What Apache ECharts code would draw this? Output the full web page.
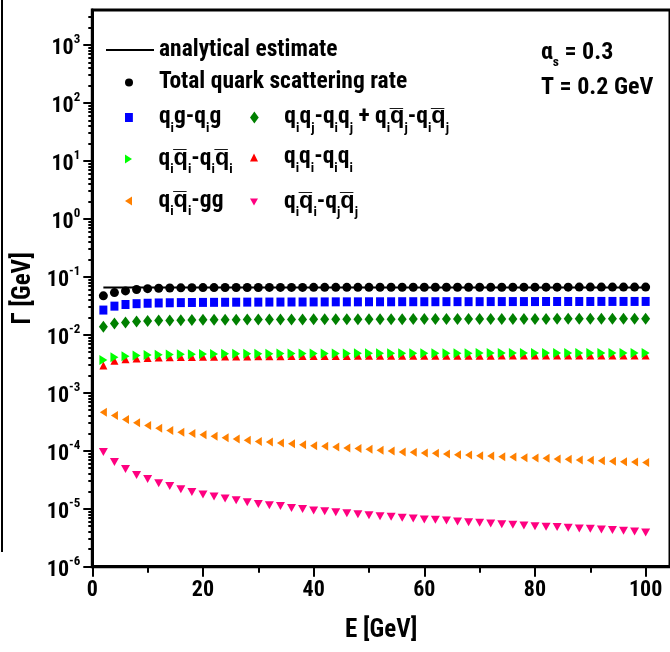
<!DOCTYPE html>
<html><head><meta charset="utf-8">
<script src="https://cdn.jsdelivr.net/npm/echarts@6/dist/echarts.min.js"></script>
<style>html,body{margin:0;padding:0;background:#fff}#c{width:670px;height:652px}</style>
</head><body><div id="c"></div>
<script>
// ---------- data ----------
const energy = [2,4,6,8,10,12,14,16,18,20,22,24,26,28,30,32,34,36,38,40,42,44,46,48,50,
  52,54,56,58,60,62,64,66,68,70,72,74,76,78,80,82,84,86,88,90,92,94,96,98,100];
const analyticalE = [2, 100];
const analyticalRate = [0.0655, 0.0655];
const totalRate = [0.047,0.0535,0.0572,0.0605,0.0625,0.0636,0.0642,0.0646,0.0649,0.0651,
  0.0652,0.0653,0.0654,0.0655,0.0655,0.0656,0.0656,0.0657,0.0657,0.0658,
  0.0658,0.0658,0.0659,0.0659,0.0659,0.066,0.066,0.066,0.066,0.0661,
  0.0661,0.0661,0.0661,0.0662,0.0662,0.0662,0.0662,0.0662,0.0663,0.0663,
  0.0663,0.0663,0.0663,0.0664,0.0664,0.0664,0.0664,0.0664,0.0664,0.0665];
const qgRate = [0.0267,0.0312,0.0333,0.0344,0.035,0.0354,0.0357,0.0359,0.0361,0.0362,
  0.0363,0.0364,0.0365,0.0366,0.0366,0.0367,0.0367,0.0368,0.0368,0.0369,
  0.0369,0.037,0.037,0.037,0.0371,0.0371,0.0371,0.0372,0.0372,0.0372,
  0.0372,0.0373,0.0373,0.0373,0.0373,0.0374,0.0374,0.0374,0.0374,0.0374,
  0.0375,0.0375,0.0375,0.0375,0.0375,0.0376,0.0376,0.0376,0.0376,0.0376];
const qqDiffRate = [0.0138,0.0157,0.0163,0.0169,0.0173,0.0176,0.0177,0.0179,0.018,0.0181,
  0.0181,0.0182,0.0182,0.0183,0.0183,0.0183,0.0184,0.0184,0.0184,0.0185,
  0.0185,0.0185,0.0185,0.0186,0.0186,0.0186,0.0186,0.0186,0.0187,0.0187,
  0.0187,0.0187,0.0187,0.0187,0.0188,0.0188,0.0188,0.0188,0.0188,0.0188,
  0.0188,0.0189,0.0189,0.0189,0.0189,0.0189,0.0189,0.0189,0.0189,0.019];
const qqbarSameRate = [0.00368,0.00408,0.00425,0.00438,0.00446,0.00452,0.00456,0.0046,0.00463,0.00465,
  0.00467,0.00469,0.0047,0.00471,0.00472,0.00473,0.00474,0.00475,0.00476,0.00477,
  0.00477,0.00478,0.00478,0.00479,0.00479,0.0048,0.0048,0.0048,0.00481,0.00481,
  0.00481,0.00482,0.00482,0.00482,0.00483,0.00483,0.00483,0.00483,0.00484,0.00484,
  0.00484,0.00484,0.00485,0.00485,0.00485,0.00485,0.00485,0.00486,0.00486,0.00486];
const qqSameRate = [0.00294,0.00358,0.00378,0.0039,0.00398,0.00404,0.00409,0.00413,0.00416,0.00418,
  0.0042,0.00422,0.00423,0.00424,0.00426,0.00427,0.00428,0.00429,0.0043,0.0043,
  0.00431,0.00432,0.00432,0.00433,0.00433,0.00434,0.00434,0.00435,0.00435,0.00435,
  0.00436,0.00436,0.00436,0.00437,0.00437,0.00437,0.00438,0.00438,0.00438,0.00438,
  0.00439,0.00439,0.00439,0.00439,0.0044,0.0044,0.0044,0.0044,0.0044,0.00441];
const qqbarToGGRate = [4.62e-4,4.06e-4,3.47e-4,3.04e-4,2.73e-4,2.45e-4,2.24e-4,2.09e-4,1.99e-4,1.89e-4,
  1.77e-4,1.68e-4,1.59e-4,1.51e-4,1.45e-4,1.41e-4,1.36e-4,1.32e-4,1.27e-4,1.22e-4,
  1.19e-4,1.16e-4,1.11e-4,1.09e-4,1.06e-4,1.02e-4,9.87e-5,9.5e-5,9.38e-5,9.12e-5,
  9.02e-5,8.77e-5,8.57e-5,8.43e-5,8.23e-5,8.1e-5,7.91e-5,7.79e-5,7.6e-5,7.48e-5,
  7.4e-5,7.2e-5,7.11e-5,6.92e-5,6.84e-5,6.75e-5,6.56e-5,6.49e-5,6.38e-5,6.24e-5];
const qqbarToQQbarRate = [9.48e-5,6.38e-5,4.84e-5,3.82e-5,3.26e-5,2.75e-5,2.47e-5,2.17e-5,1.95e-5,1.76e-5,
  1.62e-5,1.5e-5,1.4e-5,1.29e-5,1.21e-5,1.15e-5,1.11e-5,1.03e-5,9.93e-6,9.33e-6,
  9.08e-6,8.73e-6,8.38e-6,8.05e-6,7.74e-6,7.45e-6,7.24e-6,6.96e-6,6.79e-6,6.53e-6,
  6.43e-6,6.28e-6,6.04e-6,5.87e-6,5.71e-6,5.57e-6,5.42e-6,5.27e-6,5.15e-6,5.01e-6,
  4.87e-6,4.82e-6,4.69e-6,4.57e-6,4.5e-6,4.4e-6,4.28e-6,4.16e-6,4.06e-6,3.9e-6];
const xMajorTicks = [0,20,40,60,80,100];
const xMinorTicks = [10,30,50,70,90];
const yMajorTicks = [1e-6,1e-5,1e-4,1e-3,1e-2,1e-1,1,10,100,1000];
const yMinorTicks = [];
yMajorTicks.forEach(d => { for (let k = 2; k <= 9; k++) { const v = +(k * d).toPrecision(3); if (v < 4000) yMinorTicks.push(v); } });

// ---------- style ----------
const F = "'Roboto Condensed','Liberation Sans',Arial,sans-serif";
const W = 'bold';
const BAR = '\u0305';
const legRich = {
  m: { fontFamily: F, fontWeight: W, fontSize: 23.5, color: '#000' },
  s: { fontFamily: F, fontWeight: W, fontSize: 13.5, color: '#000', padding: [22, 0, 0, 0] }
};
const m = t => '{m|' + t + '}';
const s = t => '{s|' + t + '}';
const qb = 'q' + BAR;
const labels = {
  'analytical estimate': m('analytical estimate'),
  'Total quark scattering rate': m('Total quark scattering rate'),
  'qig-qig': m('q') + s('i') + m('g-q') + s('i') + m('g'),
  'qiqj-qiqj + qiqjbar-qiqjbar': m('q') + s('i') + m('q') + s('j') + m('-q') + s('i') + m('q') + s('j') +
      m(' + q') + s('i') + m(qb) + s('j') + m('-q') + s('i') + m(qb) + s('j'),
  'qiqibar-qiqibar': m('q') + s('i') + m(qb) + s('i') + m('-q') + s('i') + m(qb) + s('i'),
  'qiqi-qiqi': m('q') + s('i') + m('q') + s('i') + m('-q') + s('i') + m('q') + s('i'),
  'qiqibar-gg': m('q') + s('i') + m(qb) + s('i') + m('-gg'),
  'qiqibar-qjqjbar': m('q') + s('i') + m(qb) + s('i') + m('-q') + s('j') + m(qb) + s('j')
};
const RIGHT_TRI = 'path://M0,0L7,4.5L0,9Z';
const LEFT_TRI = 'path://M7,0L7,9L0,4.5Z';
const DOWN_TRI = 'path://M0,0L8,0L4,7Z';
const UP_TRI = 'path://M4,0L8,8L0,8Z';
const SQUARE = 'path://M0,0L7,0L7,8L0,8Z';
const DIAMOND = 'path://M4,0L8,5.5L4,11L0,5.5Z';
const HLINE = 'path://M0,0L48,0L48,2L0,2Z';

function legend(name, icon, left, cy, iw, ih) {
  return {
    selectedMode: false, left: left, top: cy - 15, padding: 0,
    itemWidth: iw, itemHeight: ih, itemGap: 0,
    data: [{ name: name, icon: icon }],
    formatter: n => labels[n],
    textStyle: { color: '#000', fontFamily: F, fontWeight: W, fontSize: 23.5, lineHeight: 30, rich: legRich }
  };
}
function pts(vals) { return energy.map((e, i) => [e, vals[i]]); }
function scat(name, vals, symbol, size, color) {
  return { name: name, type: 'scatter', data: pts(vals), symbol: symbol, symbolSize: size,
    itemStyle: { color: color, opacity: 1 }, silent: true, z: 3 };
}

const chart = echarts.init(document.getElementById('c'), null, { renderer: 'canvas' });
chart.setOption({
  animation: false,
  backgroundColor: '#fff',
  grid: { left: 92.3, top: 10, right: -11.3, bottom: 85.3, show: true, borderColor: '#000', borderWidth: 3, containLabel: false },
  xAxis: [{
    type: 'value', min: 0, max: 104.4, position: 'bottom',
    name: 'E [GeV]', nameLocation: 'middle', nameGap: 52,
    nameTextStyle: { fontFamily: F, fontWeight: W, fontSize: 25, color: '#000' },
    axisLine: { lineStyle: { color: '#000', width: 3 } },
    axisTick: { customValues: xMajorTicks, length: 10, lineStyle: { color: '#000', width: 2 } },
    axisLabel: { customValues: xMajorTicks, margin: 13, fontFamily: F, fontWeight: W, fontSize: 22, color: '#000' },
    splitLine: { show: false }
  }, {
    type: 'value', min: 0, max: 104.4, position: 'bottom',
    axisLine: { show: false },
    axisTick: { customValues: xMinorTicks, length: 6, lineStyle: { color: '#000', width: 2 } },
    axisLabel: { show: false }, splitLine: { show: false }
  }],
  yAxis: [{
    type: 'log', logBase: 10, min: 1e-6, max: 4000, position: 'left',
    name: '\u0393 [GeV]', nameLocation: 'middle', nameGap: 44, nameRotate: 90,
    nameTextStyle: { fontFamily: F, fontWeight: W, fontSize: 25, color: '#000' },
    axisLine: { lineStyle: { color: '#000', width: 3 } },
    axisTick: { customValues: yMajorTicks, length: 9, lineStyle: { color: '#000', width: 2 } },
    axisLabel: {
      customValues: yMajorTicks, margin: 12,
      formatter: v => '{b|10}{p|' + Math.round(Math.log10(v)) + '}',
      rich: {
        b: { fontFamily: F, fontWeight: W, fontSize: 22, color: '#000', padding: [8, 0, 0, 0] },
        p: { fontFamily: F, fontWeight: W, fontSize: 13, color: '#000', padding: [0, 0, 10, 0] }
      }
    },
    splitLine: { show: false }
  }, {
    type: 'log', logBase: 10, min: 1e-6, max: 4000, position: 'left',
    axisLine: { show: false },
    axisTick: { customValues: yMinorTicks, length: 4, lineStyle: { color: '#000', width: 2 } },
    axisLabel: { show: false }, splitLine: { show: false }
  }],
  legend: [
    legend('analytical estimate', HLINE, 106, 50, 48, 2),
    legend('Total quark scattering rate', 'circle', 125, 82.5, 50, 8),
    legend('qig-qig', SQUARE, 125, 117.5, 50, 9),
    legend('qiqj-qiqj + qiqjbar-qiqjbar', DIAMOND, 250, 117.5, 50, 12),
    legend('qiqibar-qiqibar', RIGHT_TRI, 125, 159, 50, 9),
    legend('qiqi-qiqi', UP_TRI, 250, 157.5, 50, 8),
    legend('qiqibar-gg', LEFT_TRI, 125, 201, 50, 9),
    legend('qiqibar-qjqjbar', DOWN_TRI, 250, 202, 50, 7)
  ],
  graphic: [
    { type: 'line', shape: { x1: 2, y1: 0, x2: 2, y2: 552 }, style: { stroke: '#000', lineWidth: 2 } },
    { type: 'text', x: 541, y: 53, style: {
        text: '{m|\u03b1}{s|s}{m| = 0.3}', verticalAlign: 'middle', align: 'left',
        rich: { m: { fontFamily: F, fontWeight: W, fontSize: 24, color: '#000' }, s: { fontFamily: F, fontWeight: W, fontSize: 13.5, color: '#000', padding: [20, 0, 0, 0] } } } },
    { type: 'text', x: 541, y: 88, style: {
        text: 'T = 0.2 GeV', verticalAlign: 'middle', align: 'left', fontFamily: F, fontWeight: W, fontSize: 24, fill: '#000' } }
  ],
  series: [
    { name: 'analytical estimate', type: 'line', data: analyticalE.map((e, i) => [e, analyticalRate[i]]),
      symbol: 'none', lineStyle: { color: '#000', width: 2 }, itemStyle: { color: '#000' }, silent: true, z: 2 },
    scat('qiqibar-qjqjbar', qqbarToQQbarRate, DOWN_TRI, [9, 8], '#ff0080'),
    scat('qiqibar-gg', qqbarToGGRate, LEFT_TRI, [7, 9], '#ff8000'),
    scat('qiqi-qiqi', qqSameRate, UP_TRI, [8, 8], '#ff0000'),
    scat('qiqibar-qiqibar', qqbarSameRate, RIGHT_TRI, [8, 10], '#00ff00'),
    scat('qiqj-qiqj + qiqjbar-qiqjbar', qqDiffRate, DIAMOND, [9, 12], '#008000'),
    scat('qig-qig', qgRate, SQUARE, [8, 9], '#0000ff'),
    scat('Total quark scattering rate', totalRate, 'circle', 9, '#000000')
  ]
});
</script></body></html>
